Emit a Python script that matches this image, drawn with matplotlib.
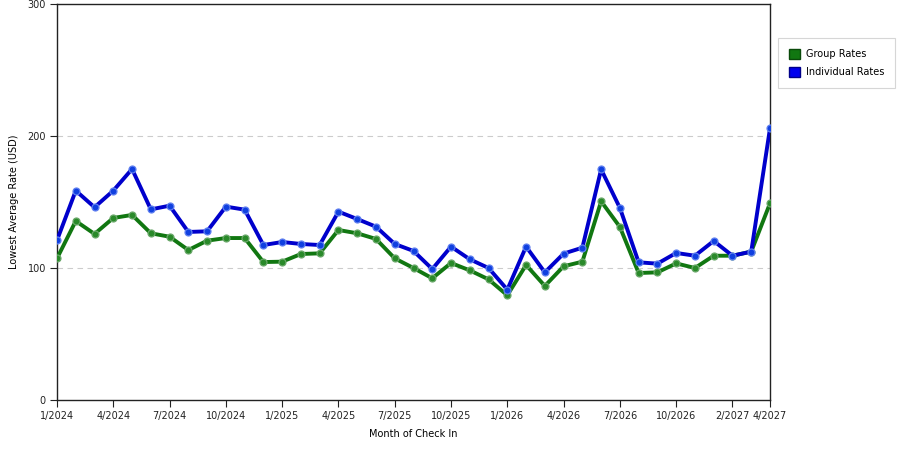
import matplotlib
matplotlib.use("Agg")
import matplotlib.pyplot as plt
from matplotlib.patches import Patch

months = ["1/2024","2/2024","3/2024","4/2024","5/2024","6/2024","7/2024","8/2024","9/2024",
          "10/2024","11/2024","12/2024","1/2025","2/2025","3/2025","4/2025","5/2025","6/2025",
          "7/2025","8/2025","9/2025","10/2025","11/2025","12/2025","1/2026","2/2026","3/2026",
          "4/2026","5/2026","6/2026","7/2026","8/2026","9/2026","10/2026","11/2026","12/2026",
          "2/2027","3/2027","4/2027"]

group_rates = [107.3, 135.6, 125.8, 137.9, 140.2, 126.3, 123.7, 113.6, 120.7, 122.7, 122.7,
               104.5, 104.8, 110.6, 111.1, 128.8, 126.3, 122.0, 107.3, 100.0, 92.2, 103.8,
               98.2, 91.4, 79.3, 102.3, 86.4, 101.3, 104.8, 150.5, 131.1, 96.2, 96.7, 103.5,
               100.0, 109.3, 109.3, 112.4, 149.0]

individual_rates = [121.0, 158.6, 146.0, 158.6, 175.0, 144.4, 147.2, 127.3, 127.8, 146.5, 144.2,
                    117.4, 119.7, 118.2, 117.4, 142.7, 137.1, 131.3, 118.2, 112.9, 99.2, 116.2,
                    106.6, 100.0, 83.6, 116.2, 96.7, 110.9, 115.4, 174.7, 145.5, 104.3, 103.3,
                    111.4, 109.3, 120.5, 109.3, 112.4, 205.8]

tick_labels = ["1/2024","4/2024","7/2024","10/2024","1/2025","4/2025","7/2025","10/2025",
               "1/2026","4/2026","7/2026","10/2026","2/2027","4/2027"]

green = "#117711"
blue = "#0000cc"

fig = plt.figure(figsize=(9, 4.5), dpi=100)
ax = fig.add_axes([57/900, 50/450, 713/900, 396/450])

x = list(range(len(months)))
ax.plot(x, group_rates, color=green, lw=2.8, marker="o", ms=5,
        mfc="#2a8a2a", mec="#6aa86a", mew=0.9, zorder=3, solid_joinstyle="round")
ax.plot(x, individual_rates, color=blue, lw=2.8, marker="o", ms=5,
        mfc="#1040e0", mec="#6080f0", mew=0.9, zorder=4, solid_joinstyle="round")

ax.set_xlim(0, len(months) - 1)
ax.set_ylim(0, 300)
ax.set_yticks([0, 100, 200, 300])
ax.set_yticklabels(["0", "100", "200", "300"])
ax.set_xticks([months.index(t) for t in tick_labels])
ax.set_xticklabels(tick_labels)
ax.tick_params(labelsize=7, length=5, width=0.8, colors="#222222", pad=3)

for yv in [100, 200]:
    ax.axhline(yv, color="#cccccc", lw=0.8, ls=(0, (5, 4)), zorder=1)

for s in ax.spines.values():
    s.set_color("#222222")
    s.set_linewidth(1)

ax.set_ylabel("Lowest Average Rate (USD)", fontsize=7, labelpad=6)
ax.set_xlabel("Month of Check In", fontsize=7, labelpad=6)

handles = [Patch(facecolor=green, edgecolor="#0a4a0a", label="Group Rates"),
           Patch(facecolor="#0000ee", edgecolor="#00008a", label="Individual Rates")]
leg = fig.legend(handles=handles, loc="upper left", bbox_to_anchor=(778/900, 1 - 38/450),
                 borderaxespad=0, fontsize=7, frameon=True, fancybox=False, handlelength=1.2,
                 handleheight=1.2, borderpad=1.1, labelspacing=0.8, handletextpad=0.6)
leg.get_frame().set_edgecolor("#cccccc")
leg.get_frame().set_linewidth(0.8)

fig.savefig("out.png", dpi=100)
